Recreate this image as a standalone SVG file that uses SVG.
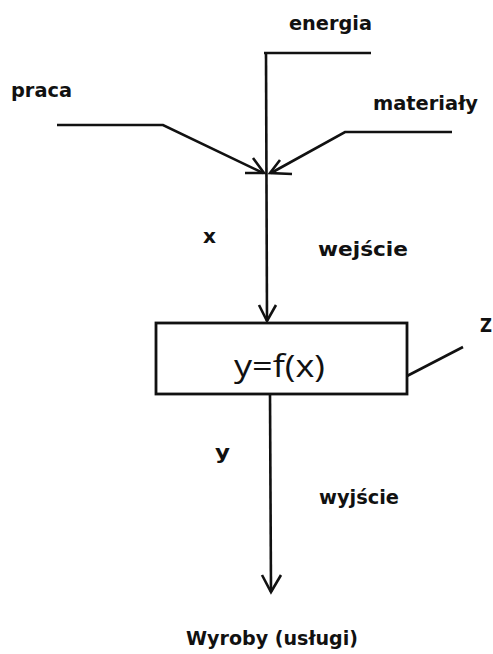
<svg xmlns="http://www.w3.org/2000/svg" width="493" height="654" viewBox="0 0 493 654">
<style>
.ln{fill:none;stroke:#111;stroke-width:2.6;stroke-linejoin:miter;stroke-linecap:butt}
.lb{font-family:"DejaVu Sans",Verdana,sans-serif;font-weight:bold;font-size:19px;fill:#111}
.fx{font-family:"Open Sans","Liberation Sans",sans-serif;font-size:31px;fill:#111}
</style>
<rect width="493" height="654" fill="#fff"/>
<g id="connectors">
<path class="ln" d="M264,53 H371"/>
<path class="ln" d="M266,53 L267,321"/>
<path class="ln" d="M259,305 L267,321 L276,305"/>
<path class="ln" d="M57,125 H163 L263,173"/>
<path class="ln" d="M253,158 L264,173 L245,173"/>
<path class="ln" d="M452,132 H345 L271,173"/>
<path class="ln" d="M280,160 L270,173 L292,174"/>
<path class="ln" d="M270,394 L271,592"/>
<path class="ln" d="M262,575 L271,592 L281,575"/>
<path class="ln" d="M407,376 L463,347"/>
</g>
<g id="box">
<rect x="156" y="323" width="251" height="71" fill="#fff" stroke="#111" stroke-width="2.8"/>
<text class="fx" x="234" y="377" textLength="91" lengthAdjust="spacingAndGlyphs">y=f(x)</text>
</g>
<g id="labels">
<text class="lb" x="289" y="30" textLength="83" lengthAdjust="spacingAndGlyphs">energia</text>
<text class="lb" x="11" y="97" textLength="61" lengthAdjust="spacingAndGlyphs">praca</text>
<text class="lb" x="373" y="110" textLength="105" lengthAdjust="spacingAndGlyphs">materiały</text>
<text class="lb" x="203" y="243" textLength="13" lengthAdjust="spacingAndGlyphs">x</text>
<text class="lb" x="318" y="256" textLength="90" lengthAdjust="spacingAndGlyphs">wejście</text>
<text class="lb" x="215" y="459" textLength="15" lengthAdjust="spacingAndGlyphs">y</text>
<text class="lb" x="319" y="504" textLength="80" lengthAdjust="spacingAndGlyphs">wyjście</text>
<text class="lb" x="480" y="332" textLength="12" lengthAdjust="spacingAndGlyphs">Z</text>
<text class="lb" x="186" y="645" textLength="172" lengthAdjust="spacingAndGlyphs">Wyroby (usługi)</text>
</g>
</svg>
